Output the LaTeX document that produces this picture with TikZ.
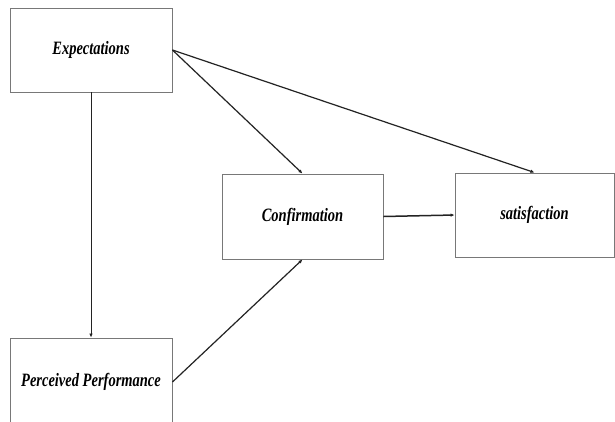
\documentclass[tikz,border=0pt]{standalone}
\usepackage{fontspec}
\setmainfont{Liberation Serif}
\definecolor{boxgray}{RGB}{120, 120, 120}
\definecolor{linedark}{RGB}{35, 35, 35}
\usetikzlibrary{arrows.meta, positioning}
\newcommand{\tallname}[1]{\scalebox{1}[1.3]{#1}}

\begin{document}
\begin{tikzpicture}[x=1pt, y=-1pt,
    construct/.style={draw=boxgray, line width=0.9pt, minimum width=162pt, minimum height=84pt,
      font=\fontsize{14.5}{16}\selectfont\bfseries\itshape, text=black, inner sep=0pt},
    link/.style={draw=linedark, line width=1.2pt, -{Latex[length=4pt, width=3.5pt]}}]
  \clip (0,0) rectangle (615,421);
  \fill[white] (0,0) rectangle (615,421);
  \node[construct] (exp) at (91,50) {\tallname{Expectations}};
  \node[construct, minimum height=88pt] (perf) at (91,382) {\tallname{Perceived Performance}};
  \node[construct, minimum width=161pt, minimum height=85pt] (conf) at (302.5,216.5) {\tallname{Confirmation}};
  \node[construct, minimum width=159pt] (sat) at (534.5,215) {\tallname{satisfaction}};
  \draw[link] (exp.east) -- (conf.north);
  \draw[link] (exp.east) -- (sat.north);
  \draw[link, line width=0.8pt] (exp.south) -- (perf.north);
  \draw[link] (perf.east) -- (conf.south);
  \draw[link, line width=1.5pt] (conf.east) -- (sat.west);
\end{tikzpicture}
\end{document}
